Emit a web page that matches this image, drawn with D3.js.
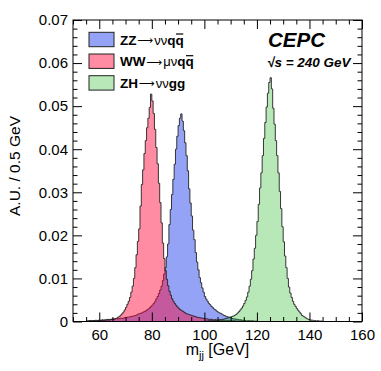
<!DOCTYPE html>
<html>
<head>
<meta charset="utf-8">
<script src="https://cdn.jsdelivr.net/npm/d3@7"></script>
<style>
  body { margin: 0; background: #fff; }
  text { font-family: "Liberation Sans", Arial, Helvetica, sans-serif; }
</style>
</head>
<body>
<div id="chart"></div>
<script>
// histogram contents, 0.5 GeV bins, in units of 1e-4 (A.U.)
var binWidth = 0.5;
var unit = 1e-4;

var zzStart = 55;
var zzValues = [
    1,1,2,1,2,2,2,3,2,3,
    3,3,4,3,4,4,5,4,5,5,
    6,5,6,7,6,7,8,7,8,9,
    9,10,10,11,12,12,13,14,15,17,
    18,19,20,22,23,25,27,29,32,35,
    38,42,46,52,58,65,73,82,95,110,
    125,150,180,225,260,295,330,365,400,430,
    455,472,482,465,443,415,385,350,308,275,
    245,212,190,160,138,120,102,90,78,68,
    58,52,47,42,39,35,32,29,27,24,
    22,20,19,17,15,14,12,11,10,9,
    8,7,6,6,5,5,4,4,3,3,
    3,2,2,2,2,1,2,1,1,1
];

var wwStart = 55;
var wwValues = [
    1,1,1,2,1,2,2,1,2,2,
    2,2,3,2,3,3,4,3,4,5,
    5,6,7,8,10,12,15,18,22,27,
    33,40,47,56,68,82,100,125,155,186,
    215,268,318,352,390,420,450,472,497,528,
    512,483,446,404,366,321,276,229,182,146,
    118,98,83,70,61,53,47,42,38,34,
    31,28,26,24,22,20,18,17,16,15,
    14,13,12,11,10,9,9,8,8,7,
    7,6,6,5,5,5,4,4,4,3,
    3,3,3,2,3,2,2,2,2,2,
    2,1,2,1,1,1,1,1,1,1
];

var zhStart = 100;
var zhValues = [
    1,1,1,2,1,2,2,2,3,3,
    3,4,4,5,5,6,7,8,9,10,
    11,12,13,15,17,20,23,27,31,36,
    42,49,57,68,82,98,118,145,170,200,
    232,272,310,345,385,425,462,498,530,555,
    566,540,495,458,420,385,345,302,262,220,
    185,152,125,100,80,66,56,47,40,35,
    30,26,22,18,14,12,10,8,6,5,
    4,3,3,2,2,1,2,1,1,1
];

var xTicks = [60, 80, 100, 120, 140, 160];
var yTicks = [0, 0.01, 0.02, 0.03, 0.04, 0.05, 0.06, 0.07];

var series = [
    { name: "ZZ", start: zzStart, values: zzValues, fill: "rgb(20,50,235)", op: 0.45 },
    { name: "WW", start: wwStart, values: wwValues, fill: "rgb(255,0,50)", op: 0.45 },
    { name: "ZH", start: zhStart, values: zhValues, fill: "rgb(20,180,20)", op: 0.3 }
];

var W = 381, H = 371;
var padL = 73, padR = 362, padT = 20, padB = 321.5;

var svg = d3.select("#chart").append("svg")
    .attr("width", W)
    .attr("height", H);

var x = d3.scaleLinear().domain([50, 160]).range([padL, padR]);
var y = d3.scaleLinear().domain([0, 0.07]).range([padB, padT]);

svg.append("clipPath").attr("id", "clip")
    .append("rect")
    .attr("x", padL).attr("y", padT)
    .attr("width", padR - padL).attr("height", padB - padT);

// step points of a histogram
function steps(s) {
    var pts = [];
    s.values.forEach(function(v, i) {
        var lo = s.start + i * binWidth;
        pts.push([lo, v * unit]);
        pts.push([lo + binWidth, v * unit]);
    });
    return pts;
}

var area = d3.area()
    .x(function(d) { return x(d[0]); })
    .y0(y(0))
    .y1(function(d) { return y(d[1]); });

var line = d3.line()
    .x(function(d) { return x(d[0]); })
    .y(function(d) { return y(d[1]); });

var hists = svg.append("g").attr("clip-path", "url(#clip)");
series.forEach(function(s) {
    var pts = steps(s);
    hists.append("path")
        .attr("d", area(pts))
        .attr("fill", s.fill)
        .attr("fill-opacity", s.op);
    hists.append("path")
        .attr("d", line(pts))
        .attr("fill", "none")
        .attr("stroke", "#222")
        .attr("stroke-width", 0.9);
});

// axes, ROOT style: ticks inside on all four sides
var xMinor = d3.range(50, 161, 5).filter(function(d) { return d % 20 !== 0; });
var yMinor = d3.range(0, 71, 2).map(function(d) { return d / 1000; })
    .filter(function(d) { return Math.round(d * 1000) % 10 !== 0; });

function addAxis(axis, tx, ty) {
    var g = svg.append("g")
        .attr("transform", "translate(" + tx + "," + ty + ")")
        .call(axis);
    g.select(".domain").remove();
    g.selectAll("line").attr("stroke", "#000");
    return g;
}

var fmtY = function(d) { return d === 0 ? "0" : d3.format(".2f")(d); };

var gx = addAxis(d3.axisBottom(x).tickValues(xTicks).tickSize(-9).tickPadding(8), 0, padB);
gx.selectAll("text").attr("font-size", 15).attr("fill", "#000");
addAxis(d3.axisBottom(x).tickValues(xMinor).tickSize(-4.5).tickFormat(""), 0, padB);
addAxis(d3.axisTop(x).tickValues(xTicks).tickSize(-9).tickFormat(""), 0, padT);
addAxis(d3.axisTop(x).tickValues(xMinor).tickSize(-4.5).tickFormat(""), 0, padT);

var gy = addAxis(d3.axisLeft(y).tickValues(yTicks).tickSize(-9).tickPadding(5).tickFormat(fmtY), padL, 0);
gy.selectAll("text").attr("font-size", 15).attr("fill", "#000");
addAxis(d3.axisLeft(y).tickValues(yMinor).tickSize(-4.5).tickFormat(""), padL, 0);
addAxis(d3.axisRight(y).tickValues(yTicks).tickSize(-9).tickFormat(""), padR, 0);
addAxis(d3.axisRight(y).tickValues(yMinor).tickSize(-4.5).tickFormat(""), padR, 0);

// frame
svg.append("rect")
    .attr("x", padL).attr("y", padT)
    .attr("width", padR - padL).attr("height", padB - padT)
    .attr("fill", "none")
    .attr("stroke", "#000")
    .attr("stroke-width", 1);

// axis titles
var xt = svg.append("text")
    .attr("x", (padL + padR) / 2)
    .attr("y", 355)
    .attr("text-anchor", "middle")
    .attr("font-size", 16);
xt.append("tspan").text("m");
xt.append("tspan").attr("font-size", 11).attr("dy", 4).text("jj");
xt.append("tspan").attr("dy", -4).text(" [GeV]");

svg.append("text")
    .attr("transform", "translate(20," + 166 + ") rotate(-90)")
    .attr("text-anchor", "middle")
    .attr("font-size", 15.5)
    .text("A.U. / 0.5 GeV");

// legend  (type: b = bold, a = arrow, n = greek, o = bold with bar)
var legendRows = [
    { s: series[0], parts: [["ZZ", "b"], ["\u27f6", "a"], ["\u03bd\u03bd", "n"], ["q", "b"], ["q", "o"]] },
    { s: series[1], parts: [["WW", "b"], ["\u27f6", "a"], ["\u03bc\u03bd", "n"], ["q", "b"], ["q", "o"]] },
    { s: series[2], parts: [["ZH", "b"], ["\u27f6", "a"], ["\u03bd\u03bd", "n"], ["gg", "b"]] }
];

var legend = svg.append("g");
legendRows.forEach(function(row, i) {
    var cy = 39.5 + i * 21.7;
    legend.append("rect")
        .attr("x", 89).attr("y", cy - 7.2)
        .attr("width", 25).attr("height", 14.4)
        .attr("fill", row.s.fill)
        .attr("fill-opacity", row.s.op)
        .attr("stroke", "#222")
        .attr("stroke-width", 1);
    var t = legend.append("text")
        .attr("x", 120)
        .attr("y", cy + 5)
        .attr("font-size", 13.5)
        .attr("font-weight", "bold");
    var bars = [];
    row.parts.forEach(function(p) {
        var ts = t.append("tspan").text(p[0]);
        if (p[1] === "a") ts.attr("font-weight", "normal").attr("font-size", 11)
            .style("font-family", "DejaVu Sans").attr("dx", 1).attr("dy", -0.5);
        if (p[1] === "n") ts.attr("font-weight", "normal").attr("font-size", 13).attr("dy", 0.5).attr("dx", 1);
        if (p[1] === "o") bars.push(ts.node());
    });
    // bar over the antiquark
    bars.forEach(function(n) {
        var box = n.getBBox();
        legend.append("line")
            .attr("x1", box.x + 0.5).attr("x2", box.x + box.width - 0.5)
            .attr("y1", cy - 5.5).attr("y2", cy - 5.5)
            .attr("stroke", "#000")
            .attr("stroke-width", 1.2);
    });
});

// labels
svg.append("text")
    .attr("x", 268).attr("y", 47)
    .attr("font-size", 20.5)
    .attr("font-weight", "bold")
    .attr("font-style", "italic")
    .text("CEPC");

svg.append("text")
    .attr("x", 267).attr("y", 67)
    .attr("font-size", 13.5)
    .attr("font-weight", "bold")
    .attr("font-style", "italic")
    .text("\u221as = 240 GeV");
</script>
</body>
</html>
